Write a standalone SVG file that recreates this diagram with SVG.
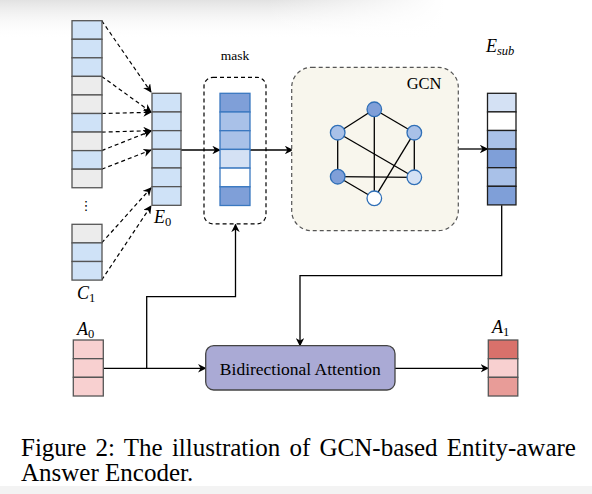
<svg xmlns="http://www.w3.org/2000/svg" width="592" height="494" viewBox="0 0 592 494">
<defs>
<linearGradient id="topV" x1="0" y1="0" x2="0" y2="1">
<stop offset="0" stop-color="#e2e2e2"/>
<stop offset="1" stop-color="#ffffff" stop-opacity="0"/>
</linearGradient>
<linearGradient id="topH" x1="0" y1="0" x2="1" y2="0">
<stop offset="0.45" stop-color="#ffffff" stop-opacity="0"/>
<stop offset="0.75" stop-color="#ffffff" stop-opacity="1"/>
</linearGradient>
<marker id="ah" viewBox="0 0 10 10" refX="9" refY="5" markerWidth="8.5" markerHeight="8.5" markerUnits="userSpaceOnUse" orient="auto">
<path d="M0,0 L10,5 L0,10 L3,5 z" fill="#000"/>
</marker>
</defs>
<style>
.cb{fill:#cfe2f7;stroke:#555;stroke-width:1.3}
.cg{fill:#ececec;stroke:#555;stroke-width:1.3}
.mk{stroke:#3a78c0;stroke-width:1.3}
.es{stroke:#1e1e1e;stroke-width:1.3}
.d{fill:#7f9fd8}
.m{fill:#a9c1e8}
.l{fill:#d4e1f4}
.w{fill:#ffffff}
.ap{stroke:#555;stroke-width:1.3}
.dash{fill:none;stroke:#000;stroke-width:1.2;stroke-dasharray:4 3;marker-end:url(#ah)}
.sol{fill:none;stroke:#000;stroke-width:1.3;marker-end:url(#ah)}
.edge{stroke:#000;stroke-width:1.3}
.gn{stroke:#2f6fb7;stroke-width:1.3}
.lab{font-family:"Liberation Serif",serif;font-style:italic;font-size:18px;fill:#000}
.sub{font-size:12.5px}
.up{font-style:normal}
.txt{font-family:"Liberation Serif",serif;fill:#000}
</style>
<rect width="592" height="494" fill="#fff"/>
<rect x="0" y="0" width="592" height="40" fill="url(#topV)"/>
<rect x="0" y="0" width="592" height="40" fill="url(#topH)"/>
<rect x="0" y="486" width="592" height="8" fill="#f3f3f3"/>

<g id="connectors">
<line class="dash" x1="101.7" y1="20.7" x2="151" y2="92"/>
<line class="dash" x1="101.7" y1="76.4" x2="151" y2="112"/>
<line class="dash" x1="101.7" y1="113.5" x2="151" y2="112.3"/>
<line class="dash" x1="101.7" y1="132.1" x2="151" y2="130.7"/>
<line class="dash" x1="101.7" y1="150.6" x2="151" y2="131"/>
<line class="dash" x1="101.7" y1="169.2" x2="151" y2="150"/>
<line class="dash" x1="101.7" y1="242.9" x2="151" y2="188"/>
<line class="dash" x1="101.7" y1="280" x2="151" y2="206"/>
<line class="sol" x1="181" y1="150" x2="220" y2="150"/>
<line class="sol" x1="250" y1="150" x2="292.5" y2="150"/>
<line class="sol" x1="458.3" y1="149" x2="487.5" y2="149"/>
<polyline class="sol" points="501.7,205.3 501.7,275.7 300,275.7 300,345.7"/>
<polyline class="sol" points="146.7,368.3 146.7,296.7 235.5,296.7 235.5,224.5"/>
<line class="sol" x1="103.3" y1="368.3" x2="205.7" y2="368.3"/>
<line class="sol" x1="395" y1="368.3" x2="488.3" y2="368.3"/>
</g>

<g id="C">
<rect class="cb" x="72" y="20.7" width="30" height="18.56"/>
<rect class="cb" x="72" y="39.26" width="30" height="18.56"/>
<rect class="cb" x="72" y="57.82" width="30" height="18.56"/>
<rect class="cg" x="72" y="76.38" width="30" height="18.56"/>
<rect class="cg" x="72" y="94.94" width="30" height="18.56"/>
<rect class="cb" x="72" y="113.5" width="30" height="18.56"/>
<rect class="cg" x="72" y="132.06" width="30" height="18.56"/>
<rect class="cb" x="72" y="150.62" width="30" height="18.56"/>
<rect class="cg" x="72" y="169.18" width="30" height="18.56"/>
<text x="86" y="210" font-size="13" text-anchor="middle" font-family="DejaVu Sans, sans-serif" fill="#000">⋮</text>
</g>

<g id="C1">
<rect class="cg" x="72" y="224.3" width="30" height="18.6"/>
<rect class="cb" x="72" y="242.9" width="30" height="18.6"/>
<rect class="cb" x="72" y="261.5" width="30" height="18.6"/>
<text class="lab" x="77" y="299">C<tspan class="sub up" dy="3">1</tspan></text>
</g>

<g id="E0">
<rect class="cb" x="152" y="93.3" width="29" height="18.67"/>
<rect class="cb" x="152" y="111.97" width="29" height="18.67"/>
<rect class="cb" x="152" y="130.64" width="29" height="18.67"/>
<rect class="cb" x="152" y="149.31" width="29" height="18.67"/>
<rect class="cb" x="152" y="167.98" width="29" height="18.67"/>
<rect class="cb" x="152" y="186.65" width="29" height="18.67"/>
<text class="lab" x="154" y="223">E<tspan class="sub up" dy="3">0</tspan></text>
</g>

<g id="mask">
<text class="txt" x="235" y="60" font-size="13.5" text-anchor="middle">mask</text>
<rect x="204" y="77.3" width="62" height="146.5" rx="9" fill="none" stroke="#000" stroke-width="1.2" stroke-dasharray="4 3"/>
<rect class="mk d" x="220" y="93.3" width="30" height="18.7"/>
<rect class="mk m" x="220" y="112" width="30" height="18.7"/>
<rect class="mk m" x="220" y="130.7" width="30" height="18.7"/>
<rect class="mk l" x="220" y="149.4" width="30" height="18.7"/>
<rect class="mk w" x="220" y="168.1" width="30" height="18.7"/>
<rect class="mk d" x="220" y="186.8" width="30" height="18.7"/>
</g>

<g id="GCN">
<rect x="291.7" y="67.3" width="166.6" height="163.4" rx="20" fill="#f8f6ed" stroke="#555" stroke-width="1.2" stroke-dasharray="4 3"/>
<text class="txt" x="441.5" y="89.3" font-size="16.5" text-anchor="end">GCN</text>
<line class="edge" x1="374.3" y1="109.3" x2="337.7" y2="132.7"/>
<line class="edge" x1="374.3" y1="109.3" x2="414.3" y2="132.7"/>
<line class="edge" x1="374.3" y1="109.3" x2="374.3" y2="198.3"/>
<line class="edge" x1="337.7" y1="132.7" x2="337.7" y2="176.7"/>
<line class="edge" x1="337.7" y1="132.7" x2="414.3" y2="177.3"/>
<line class="edge" x1="414.3" y1="132.7" x2="414.3" y2="177.3"/>
<line class="edge" x1="414.3" y1="132.7" x2="374.3" y2="198.3"/>
<line class="edge" x1="337.7" y1="176.7" x2="414.3" y2="177.3"/>
<line class="edge" x1="337.7" y1="176.7" x2="374.3" y2="198.3"/>
<circle class="gn d" cx="374.3" cy="109.3" r="7.3"/>
<circle class="gn m" cx="337.7" cy="132.7" r="7.3"/>
<circle class="gn m" cx="414.3" cy="132.7" r="7.3"/>
<circle class="gn d" cx="337.7" cy="176.7" r="7.3"/>
<circle class="gn l" cx="414.3" cy="177.3" r="7.3"/>
<circle class="gn w" cx="374.3" cy="198.3" r="7.3"/>
</g>

<g id="Esub">
<text class="lab" x="486" y="52">E<tspan class="sub" dy="3">sub</tspan></text>
<rect class="es l" x="487.5" y="93.3" width="28.5" height="18.6"/>
<rect class="es w" x="487.5" y="111.9" width="28.5" height="18.6"/>
<rect class="es m" x="487.5" y="130.5" width="28.5" height="18.6"/>
<rect class="es d" x="487.5" y="149.1" width="28.5" height="18.6"/>
<rect class="es m" x="487.5" y="167.7" width="28.5" height="18.6"/>
<rect class="es d" x="487.5" y="186.3" width="28.5" height="18.6"/>
</g>

<g id="A0">
<text class="lab" x="77" y="335">A<tspan class="sub up" dy="3">0</tspan></text>
<rect class="ap" x="73.3" y="340" width="30" height="18.67" fill="#f8d0d0"/>
<rect class="ap" x="73.3" y="358.67" width="30" height="18.67" fill="#f8d0d0"/>
<rect class="ap" x="73.3" y="377.34" width="30" height="18.67" fill="#f8d0d0"/>
</g>

<g id="BiAttn">
<rect x="205.7" y="345.7" width="189.3" height="44.3" rx="8" fill="#aaaad5" stroke="#444" stroke-width="1.3"/>
<text class="txt" x="300.3" y="375" font-size="17.5" text-anchor="middle">Bidirectional Attention</text>
</g>

<g id="A1">
<text class="lab" x="492" y="333">A<tspan class="sub up" dy="3">1</tspan></text>
<rect class="ap" x="488.3" y="340" width="29.5" height="18.67" fill="#d9716b"/>
<rect class="ap" x="488.3" y="358.67" width="29.5" height="18.67" fill="#f8d0d0"/>
<rect class="ap" x="488.3" y="377.34" width="29.5" height="18.67" fill="#e89c98"/>
</g>

<g id="caption">
<text class="txt" x="21" y="455.5" font-size="25" word-spacing="3">Figure 2: The illustration of GCN-based Entity-aware</text>
<text class="txt" x="21" y="481" font-size="25">Answer Encoder.</text>
</g>
</svg>
